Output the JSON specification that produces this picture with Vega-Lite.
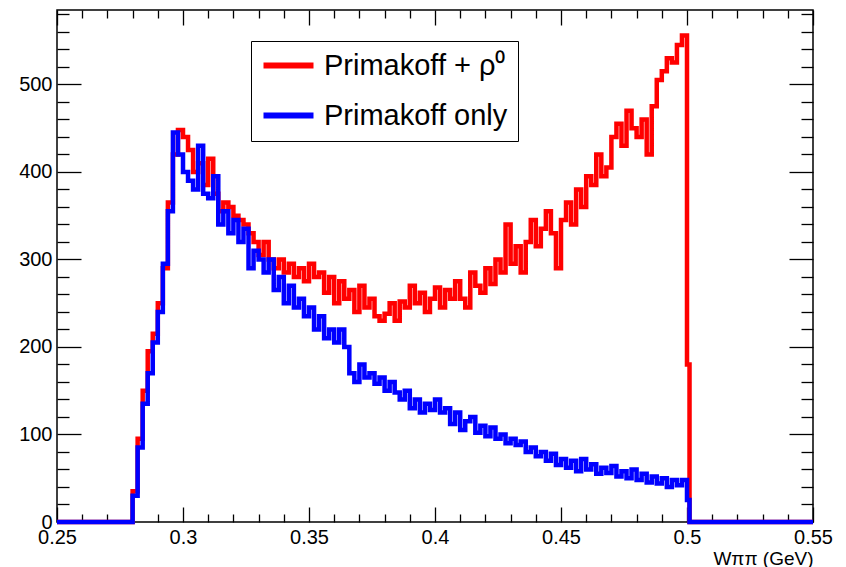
{
  "$schema": "https://vega.github.io/schema/vega-lite/v6.json",
  "width": 756,
  "height": 512,
  "autosize": {"type": "none"},
  "padding": {"left": 57, "top": 10, "right": 33, "bottom": 45},
  "background": "white",
  "config": {
    "view": {"stroke": "black", "strokeWidth": 1.5},
    "font": "Liberation Sans",
    "axis": {
      "domain": false, "grid": false,
      "labelFont": "Liberation Sans", "labelFontSize": 20, "labelColor": "black",
      "tickColor": "black", "tickWidth": 1.3,
      "labelFlush": false, "labelOverlap": false, "labelBound": false,
      "titleFont": "Liberation Sans", "titleFontWeight": "normal", "titleColor": "black"
    }
  },
  "datasets": {
    "rho": [
      {"x":0.25,"n":0},
      {"x":0.280,"n":35},{"x":0.282,"n":95},{"x":0.284,"n":150},{"x":0.286,"n":195},{"x":0.288,"n":215},
      {"x":0.290,"n":250},{"x":0.292,"n":290},{"x":0.294,"n":365},{"x":0.296,"n":420},{"x":0.298,"n":448},
      {"x":0.300,"n":440},{"x":0.302,"n":425},{"x":0.304,"n":400},{"x":0.306,"n":410},{"x":0.308,"n":385},
      {"x":0.310,"n":415},{"x":0.312,"n":375},{"x":0.314,"n":355},{"x":0.316,"n":365},{"x":0.318,"n":360},
      {"x":0.320,"n":350},{"x":0.322,"n":345},{"x":0.324,"n":340},{"x":0.326,"n":330},{"x":0.328,"n":320},
      {"x":0.330,"n":305},{"x":0.332,"n":320},{"x":0.334,"n":300},{"x":0.336,"n":290},{"x":0.338,"n":300},
      {"x":0.340,"n":285},{"x":0.342,"n":295},{"x":0.344,"n":280},{"x":0.346,"n":290},{"x":0.348,"n":275},
      {"x":0.350,"n":295},{"x":0.352,"n":280},{"x":0.354,"n":285},{"x":0.356,"n":262},{"x":0.358,"n":280},
      {"x":0.360,"n":250},{"x":0.362,"n":275},{"x":0.364,"n":255},{"x":0.366,"n":265},{"x":0.368,"n":240},
      {"x":0.370,"n":270},{"x":0.372,"n":245},{"x":0.374,"n":255},{"x":0.376,"n":235},{"x":0.378,"n":230},
      {"x":0.380,"n":238},{"x":0.382,"n":250},{"x":0.384,"n":230},{"x":0.386,"n":252},{"x":0.388,"n":245},
      {"x":0.390,"n":270},{"x":0.392,"n":250},{"x":0.394,"n":262},{"x":0.396,"n":240},{"x":0.398,"n":255},
      {"x":0.400,"n":268},{"x":0.402,"n":245},{"x":0.404,"n":265},{"x":0.406,"n":255},{"x":0.408,"n":275},
      {"x":0.410,"n":255},{"x":0.412,"n":245},{"x":0.414,"n":285},{"x":0.416,"n":270},{"x":0.418,"n":262},
      {"x":0.420,"n":290},{"x":0.422,"n":272},{"x":0.424,"n":300},{"x":0.426,"n":285},{"x":0.428,"n":340},
      {"x":0.430,"n":295},{"x":0.432,"n":315},{"x":0.434,"n":285},{"x":0.436,"n":320},{"x":0.438,"n":345},
      {"x":0.440,"n":315},{"x":0.442,"n":335},{"x":0.444,"n":355},{"x":0.446,"n":330},{"x":0.448,"n":290},
      {"x":0.450,"n":345},{"x":0.452,"n":365},{"x":0.454,"n":340},{"x":0.456,"n":380},{"x":0.458,"n":360},
      {"x":0.460,"n":395},{"x":0.462,"n":385},{"x":0.464,"n":420},{"x":0.466,"n":395},{"x":0.468,"n":405},
      {"x":0.470,"n":440},{"x":0.472,"n":455},{"x":0.474,"n":430},{"x":0.476,"n":470},{"x":0.478,"n":450},
      {"x":0.480,"n":440},{"x":0.482,"n":460},{"x":0.484,"n":420},{"x":0.486,"n":475},{"x":0.488,"n":505},
      {"x":0.490,"n":515},{"x":0.492,"n":530},{"x":0.494,"n":525},{"x":0.496,"n":545},{"x":0.498,"n":556},
      {"x":0.500,"n":180},{"x":0.501,"n":0},{"x":0.55,"n":0}
    ],
    "prim": [
      {"x":0.25,"n":0},
      {"x":0.280,"n":30},{"x":0.282,"n":85},{"x":0.284,"n":135},{"x":0.286,"n":170},{"x":0.288,"n":205},
      {"x":0.290,"n":240},{"x":0.292,"n":295},{"x":0.294,"n":355},{"x":0.296,"n":445},{"x":0.298,"n":420},
      {"x":0.300,"n":400},{"x":0.302,"n":390},{"x":0.304,"n":380},{"x":0.306,"n":430},{"x":0.308,"n":375},
      {"x":0.310,"n":370},{"x":0.312,"n":395},{"x":0.314,"n":340},{"x":0.316,"n":355},{"x":0.318,"n":330},
      {"x":0.320,"n":345},{"x":0.322,"n":320},{"x":0.324,"n":335},{"x":0.326,"n":290},{"x":0.328,"n":310},
      {"x":0.330,"n":300},{"x":0.332,"n":285},{"x":0.334,"n":300},{"x":0.336,"n":265},{"x":0.338,"n":280},
      {"x":0.340,"n":250},{"x":0.342,"n":270},{"x":0.344,"n":245},{"x":0.346,"n":255},{"x":0.348,"n":235},
      {"x":0.350,"n":245},{"x":0.352,"n":220},{"x":0.354,"n":235},{"x":0.356,"n":210},{"x":0.358,"n":220},
      {"x":0.360,"n":205},{"x":0.362,"n":220},{"x":0.364,"n":200},{"x":0.366,"n":170},{"x":0.368,"n":160},
      {"x":0.370,"n":180},{"x":0.372,"n":165},{"x":0.374,"n":170},{"x":0.376,"n":158},{"x":0.378,"n":165},
      {"x":0.380,"n":150},{"x":0.382,"n":160},{"x":0.384,"n":148},{"x":0.386,"n":140},{"x":0.388,"n":150},
      {"x":0.390,"n":130},{"x":0.392,"n":140},{"x":0.394,"n":125},{"x":0.396,"n":135},{"x":0.398,"n":128},
      {"x":0.400,"n":140},{"x":0.402,"n":125},{"x":0.404,"n":130},{"x":0.406,"n":112},{"x":0.408,"n":125},
      {"x":0.410,"n":105},{"x":0.412,"n":115},{"x":0.414,"n":120},{"x":0.416,"n":102},{"x":0.418,"n":110},
      {"x":0.420,"n":98},{"x":0.422,"n":108},{"x":0.424,"n":95},{"x":0.426,"n":100},{"x":0.428,"n":90},
      {"x":0.430,"n":95},{"x":0.432,"n":88},{"x":0.434,"n":92},{"x":0.436,"n":80},{"x":0.438,"n":85},
      {"x":0.440,"n":75},{"x":0.442,"n":80},{"x":0.444,"n":70},{"x":0.446,"n":78},{"x":0.448,"n":65},
      {"x":0.450,"n":72},{"x":0.452,"n":62},{"x":0.454,"n":70},{"x":0.456,"n":58},{"x":0.458,"n":72},
      {"x":0.460,"n":60},{"x":0.462,"n":66},{"x":0.464,"n":55},{"x":0.466,"n":62},{"x":0.468,"n":56},
      {"x":0.470,"n":64},{"x":0.472,"n":52},{"x":0.474,"n":58},{"x":0.476,"n":50},{"x":0.478,"n":60},
      {"x":0.480,"n":48},{"x":0.482,"n":55},{"x":0.484,"n":45},{"x":0.486,"n":52},{"x":0.488,"n":44},
      {"x":0.490,"n":50},{"x":0.492,"n":40},{"x":0.494,"n":48},{"x":0.496,"n":42},{"x":0.498,"n":48},
      {"x":0.500,"n":25},{"x":0.501,"n":0},{"x":0.55,"n":0}
    ]
  },
  "layer": [
    {
      "data": {"name": "rho"},
      "mark": {"type": "line", "interpolate": "step-after", "strokeWidth": 4.5},
      "encoding": {
        "x": {"field": "x", "type": "quantitative",
          "scale": {"domain": [0.25, 0.55], "nice": false, "zero": false},
          "axis": {"orient": "bottom", "values": [0.25,0.3,0.35,0.4,0.45,0.5,0.55], "format": "~g",
            "tickSize": -15, "labelPadding": 20, "title": "Wππ (GeV)", "titleAnchor": "end",
            "titleFontSize": 19, "titleBaseline": "alphabetic", "titleY": 42}},
        "y": {"field": "n", "type": "quantitative",
          "scale": {"domain": [0, 585], "nice": false, "zero": false},
          "axis": {"orient": "left", "values": [0,100,200,300,400,500], "format": "d",
            "tickSize": -24, "labelPadding": 29, "title": null}},
        "color": {"datum": "Primakoff + ρ⁰", "type": "nominal",
          "scale": {"domain": ["Primakoff + ρ⁰", "Primakoff only"], "range": ["#ff0000", "#0000ff"]},
          "legend": {"orient": "none", "legendX": 194, "legendY": 31, "title": null,
            "symbolType": "M-2.5,0L2.5,0", "symbolSize": 400, "symbolStrokeWidth": 6, "symbolOffset": 13,
            "labelOffset": 21, "labelFontSize": 29, "labelLimit": 500, "labelFont": "Liberation Sans", "labelColor": "black",
            "strokeColor": "black", "fillColor": "white", "padding": 10, "rowPadding": 20}}
      }
    },
    {
      "data": {"name": "prim"},
      "mark": {"type": "line", "interpolate": "step-after", "strokeWidth": 4.5},
      "encoding": {
        "x": {"field": "x", "type": "quantitative",
          "axis": {"orient": "bottom", "values": [0.26,0.27,0.28,0.29,0.31,0.32,0.33,0.34,0.36,0.37,0.38,0.39,0.41,0.42,0.43,0.44,0.46,0.47,0.48,0.49,0.51,0.52,0.53,0.54],
            "tickSize": -8, "labels": false, "title": null}},
        "y": {"field": "n", "type": "quantitative",
          "axis": {"orient": "left", "values": [20,40,60,80,120,140,160,180,220,240,260,280,320,340,360,380,420,440,460,480,520,540,560,580],
            "tickSize": -12, "labels": false, "title": null}},
        "color": {"datum": "Primakoff only", "type": "nominal"}
      }
    },
    {
      "data": {"name": "rho"},
      "mark": {"type": "line", "opacity": 0},
      "encoding": {
        "x": {"field": "x", "type": "quantitative",
          "axis": {"orient": "top", "values": [0.25,0.3,0.35,0.4,0.45,0.5,0.55], "tickSize": -15, "labels": false, "title": null}},
        "y": {"field": "n", "type": "quantitative",
          "axis": {"orient": "right", "values": [0,100,200,300,400,500], "tickSize": -24, "labels": false, "title": null}}
      }
    },
    {
      "data": {"name": "rho"},
      "mark": {"type": "line", "opacity": 0},
      "encoding": {
        "x": {"field": "x", "type": "quantitative",
          "axis": {"orient": "top", "values": [0.26,0.27,0.28,0.29,0.31,0.32,0.33,0.34,0.36,0.37,0.38,0.39,0.41,0.42,0.43,0.44,0.46,0.47,0.48,0.49,0.51,0.52,0.53,0.54],
            "tickSize": -8, "labels": false, "title": null}},
        "y": {"field": "n", "type": "quantitative",
          "axis": {"orient": "right", "values": [20,40,60,80,120,140,160,180,220,240,260,280,320,340,360,380,420,440,460,480,520,540,560,580],
            "tickSize": -12, "labels": false, "title": null}}
      }
    }
  ],
  "resolve": {"axis": {"x": "independent", "y": "independent"}}
}
